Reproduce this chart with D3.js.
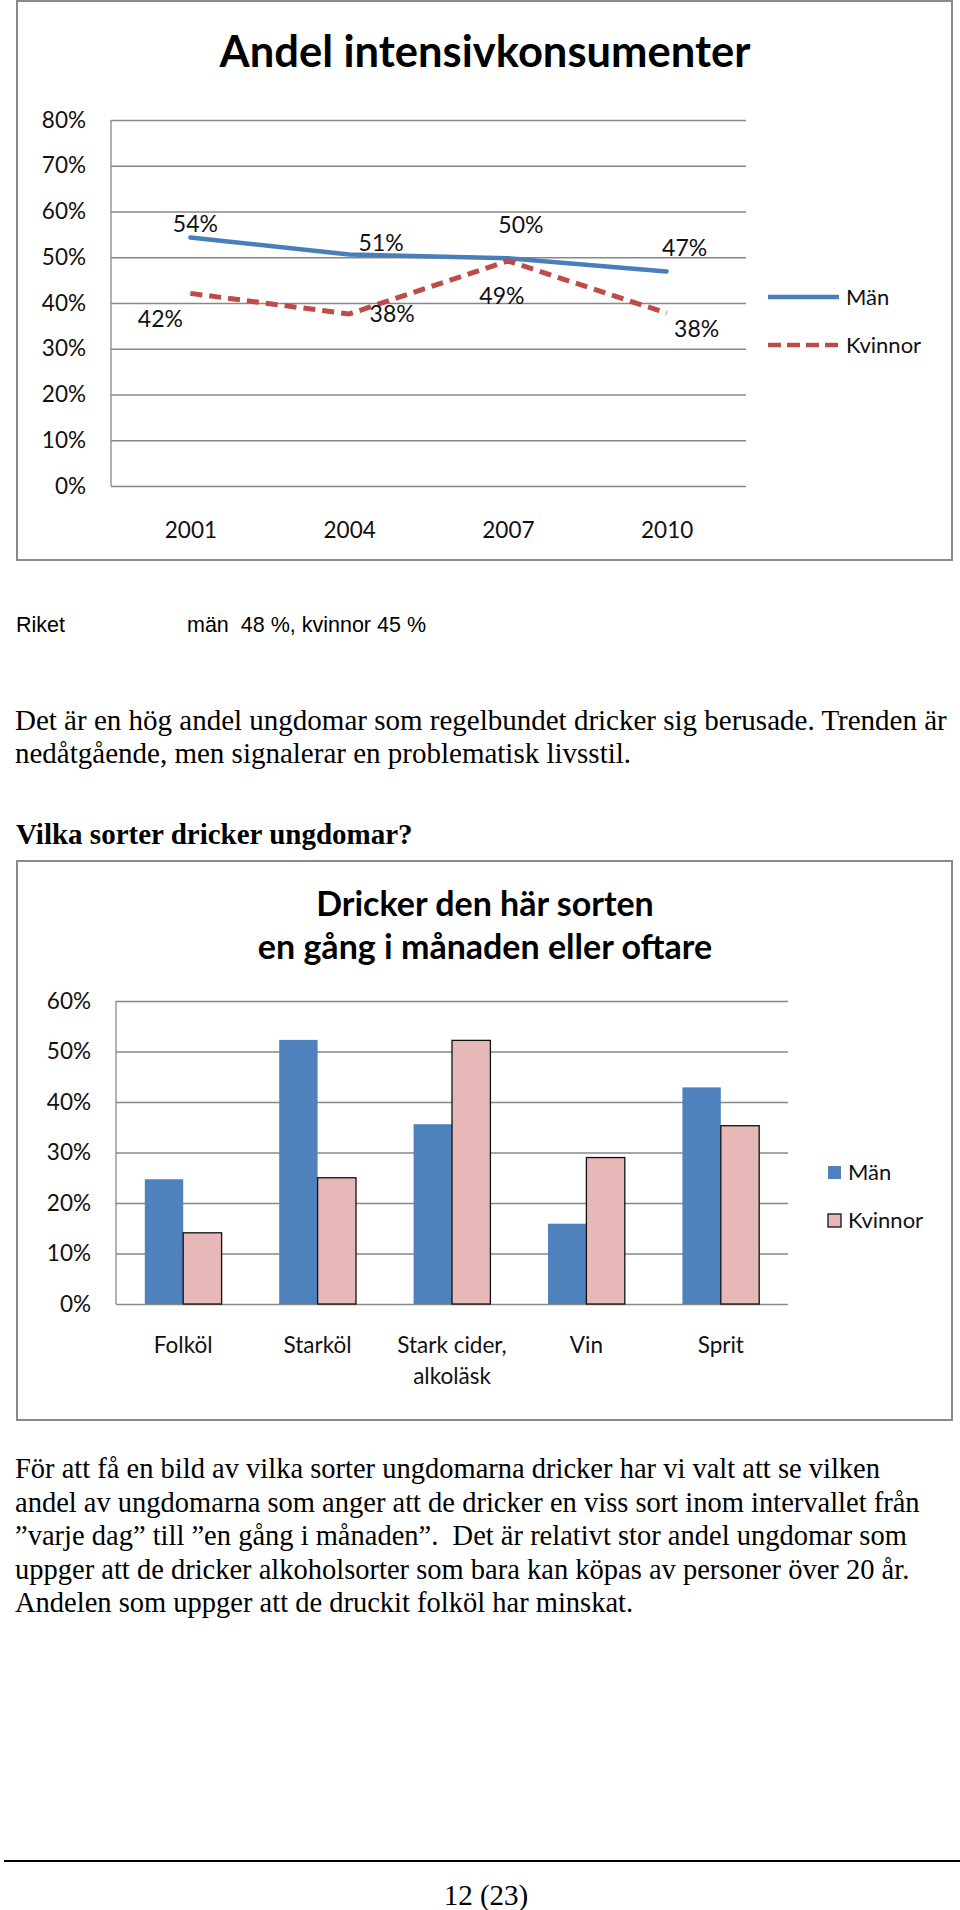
<!DOCTYPE html>
<html>
<head>
<meta charset="utf-8">
<script src="https://cdn.jsdelivr.net/npm/d3@7"></script>
<style>
    body { margin: 0; background: #fff; }
    svg { display: block; }
</style>
</head>
<body>
<div id="chart-area"></div>
<script>
// Andel intensivkonsumenter (line chart)
const years = ["2001", "2004", "2007", "2010"];
const manIntensiv = [54.3, 50.6, 49.8, 46.9];
const kvinnorIntensiv = [42.1, 37.6, 49.2, 37.8];
const intensivTicks = [0, 10, 20, 30, 40, 50, 60, 70, 80];

// Dricker den här sorten (bar chart)
const sorter = ["Folköl", "Starköl", "Stark cider, alkoläsk", "Vin", "Sprit"];
const sortLabels = [["Folköl"], ["Starköl"], ["Stark cider,", "alkoläsk"], ["Vin"], ["Sprit"]];
const manSorter = [24.7, 52.3, 35.6, 15.9, 42.9];
const kvinnorSorter = [14.1, 25.0, 52.2, 29.0, 35.3];
const sorterTicks = [0, 10, 20, 30, 40, 50, 60];

const series = ["Män", "Kvinnor"];

// page text
const riketText = ["Riket", "män  48 %, kvinnor 45 %"];
const para1 = [
    "Det är en hög andel ungdomar som regelbundet dricker sig berusade. Trenden är",
    "nedåtgående, men signalerar en problematisk livsstil."
];
const heading = "Vilka sorter dricker ungdomar?";
const para2 = [
    "För att få en bild av vilka sorter ungdomarna dricker har vi valt att se vilken",
    "andel av ungdomarna som anger att de dricker en viss sort inom intervallet från",
    "\u201dvarje dag\u201d till \u201den gång i månaden\u201d.  Det är relativt stor andel ungdomar som",
    "uppger att de dricker alkoholsorter som bara kan köpas av personer över 20 år.",
    "Andelen som uppger att de druckit folköl har minskat."
];
const pageNo = "12 (23)";

// label nudges (Excel placed them by hand)
const manNudge = [[5, -6], [32, -4], [13, -25], [18, -15]];
const kvNudge = [[-30, 34], [43, 8], [-6, 43], [30, 24]];

const chartFont = "Lato, 'Open Sans', sans-serif";
const serif = "'Liberation Serif', 'Times New Roman', serif";
const blue = "#4a7ebb", red = "#be4b48";
const barBlue = "#4f81bd", barPink = "#e6b9b8";
const gridColor = "#888888";

const svg = d3.select("#chart-area")
    .append("svg")
        .attr("width", 960)
        .attr("height", 1910);

/* ---------------- CHART 1 ---------------- */
const c1 = svg.append("g");

c1.append("rect")
    .attr("x", 17).attr("y", 1)
    .attr("width", 935).attr("height", 559)
    .attr("fill", "#fff")
    .attr("stroke", "#8a8a8a")
    .attr("stroke-width", 2);

c1.append("text")
    .attr("x", 485).attr("y", 67)
    .attr("text-anchor", "middle")
    .attr("font-family", chartFont)
    .attr("font-weight", "bold")
    .attr("font-size", "43.5px")
    .text("Andel intensivkonsumenter");

const x1 = d3.scalePoint()
    .domain(years)
    .range([111, 746])
    .padding(0.5);

const y1 = d3.scaleLinear()
    .domain([0, 80])
    .range([486, 120]);

// Y AXIS with gridlines
const y1Axis = c1.append("g")
    .attr("transform", "translate(111,0)")
    .call(d3.axisLeft(y1)
        .tickValues(intensivTicks)
        .tickSize(-635)
        .tickPadding(25)
        .tickFormat(d => d + "%"));
y1Axis.select(".domain").remove();
y1Axis.selectAll("line").attr("stroke", gridColor).attr("stroke-width", 1.3);
y1Axis.selectAll("text")
    .attr("font-family", chartFont)
    .attr("font-size", "22.5px")
    .attr("fill", "#111");

c1.append("line")
    .attr("x1", 111).attr("x2", 111)
    .attr("y1", y1(80)).attr("y2", y1(0))
    .attr("stroke", gridColor).attr("stroke-width", 1.3);

// X AXIS labels
const x1Axis = c1.append("g")
    .attr("transform", "translate(0," + y1(0) + ")")
    .call(d3.axisBottom(x1).tickSize(0).tickPadding(36));
x1Axis.select(".domain").remove();
x1Axis.selectAll("text")
    .attr("font-family", chartFont)
    .attr("font-size", "22.5px")
    .attr("fill", "#111");

const line1 = d3.line()
    .x((d, i) => x1(years[i]))
    .y(d => y1(d));

c1.append("path")
    .attr("d", line1(manIntensiv))
    .attr("fill", "none")
    .attr("stroke", blue)
    .attr("stroke-width", 4.5)
    .attr("stroke-linecap", "round")
    .attr("stroke-linejoin", "round");

c1.append("path")
    .attr("d", line1(kvinnorIntensiv))
    .attr("fill", "none")
    .attr("stroke", red)
    .attr("stroke-width", 5)
    .attr("stroke-dasharray", "12,7");

//DATA LABELS
function addLabels(values, nudge) {
    c1.append("g").selectAll("text")
        .data(values)
        .enter()
        .append("text")
        .attr("x", (d, i) => x1(years[i]) + nudge[i][0])
        .attr("y", (d, i) => y1(d) + nudge[i][1])
        .attr("text-anchor", "middle")
        .attr("font-family", chartFont)
        .attr("font-size", "23px")
        .attr("fill", "#111")
        .text(d => Math.round(d) + "%");
}
addLabels(manIntensiv, manNudge);
addLabels(kvinnorIntensiv, kvNudge);

//LEGEND
const leg1 = c1.append("g").attr("transform", "translate(768,297)");
series.forEach(function(s, i) {
    const row = leg1.append("g").attr("transform", "translate(0," + i * 48 + ")");
    row.append("line")
        .attr("x1", 0).attr("x2", 71)
        .attr("stroke", i === 0 ? blue : red)
        .attr("stroke-width", 4.5)
        .attr("stroke-dasharray", i === 0 ? null : "13,6");
    row.append("text")
        .attr("x", 78).attr("y", 8)
        .attr("font-family", chartFont)
        .attr("font-size", "22px")
        .attr("fill", "#111")
        .text(s);
});

/* ---------------- PAGE TEXT ---------------- */
svg.append("text")
    .attr("x", 16).attr("y", 632)
    .attr("font-family", "'Liberation Sans', Arial, sans-serif")
    .attr("font-size", "21.5px")
    .text(riketText[0]);
svg.append("text")
    .attr("x", 187).attr("y", 632)
    .attr("font-family", "'Liberation Sans', Arial, sans-serif")
    .attr("font-size", "21.5px")
    .attr("xml:space", "preserve")
    .text(riketText[1]);

svg.append("g").selectAll("text")
    .data(para1)
    .enter()
    .append("text")
    .attr("x", 15)
    .attr("y", (d, i) => 730 + i * 33)
    .attr("font-family", serif)
    .attr("font-size", "29px")
    .text(d => d);

svg.append("text")
    .attr("x", 16).attr("y", 844)
    .attr("font-family", serif)
    .attr("font-weight", "bold")
    .attr("font-size", "29px")
    .text(heading);

/* ---------------- CHART 2 ---------------- */
const c2 = svg.append("g");

c2.append("rect")
    .attr("x", 17).attr("y", 861)
    .attr("width", 935).attr("height", 559)
    .attr("fill", "#fff")
    .attr("stroke", "#8a8a8a")
    .attr("stroke-width", 2);

c2.append("text")
    .attr("x", 485)
    .attr("font-family", chartFont)
    .attr("font-weight", "bold")
    .attr("font-size", "34px")
    .attr("text-anchor", "middle")
    .selectAll("tspan")
    .data(["Dricker den här sorten", "en gång i månaden eller oftare"])
    .enter()
    .append("tspan")
    .attr("x", 485)
    .attr("y", (d, i) => 916 + i * 43)
    .text(d => d);

const x2 = d3.scaleBand()
    .domain(sorter)
    .range([116, 788]);

// gap width 150% like Excel
const barW = x2.bandwidth() / 3.5;
const xSeries = d3.scaleBand()
    .domain(series)
    .range([0, barW * 2]);

const y2 = d3.scaleLinear()
    .domain([0, 60])
    .range([1304, 1001]);

const y2Axis = c2.append("g")
    .attr("transform", "translate(116,0)")
    .call(d3.axisLeft(y2)
        .tickValues(sorterTicks)
        .tickSize(-672)
        .tickPadding(25)
        .tickFormat(d => d + "%"));
y2Axis.select(".domain").remove();
y2Axis.selectAll("line").attr("stroke", gridColor).attr("stroke-width", 1.3);
y2Axis.selectAll("text")
    .attr("font-family", chartFont)
    .attr("font-size", "22.5px")
    .attr("fill", "#111");

c2.append("line")
    .attr("x1", 116).attr("x2", 116)
    .attr("y1", y2(60)).attr("y2", y2(0))
    .attr("stroke", gridColor).attr("stroke-width", 1.3);

// BARS
const groups = c2.append("g").selectAll("g")
    .data(sorter)
    .enter()
    .append("g")
    .attr("transform", d => "translate(" + (x2(d) + (x2.bandwidth() - barW * 2) / 2) + ",0)");

groups.append("rect")
    .attr("x", xSeries("Män"))
    .attr("y", (d, i) => y2(manSorter[i]))
    .attr("width", xSeries.bandwidth())
    .attr("height", (d, i) => y2(0) - y2(manSorter[i]))
    .attr("fill", barBlue);

groups.append("rect")
    .attr("x", xSeries("Kvinnor"))
    .attr("y", (d, i) => y2(kvinnorSorter[i]))
    .attr("width", xSeries.bandwidth())
    .attr("height", (d, i) => y2(0) - y2(kvinnorSorter[i]))
    .attr("fill", barPink)
    .attr("stroke", "#111")
    .attr("stroke-width", 1.3);

// category labels
c2.append("g").selectAll("text")
    .data(sorter)
    .enter()
    .append("text")
    .attr("font-family", chartFont)
    .attr("font-size", "22.5px")
    .attr("fill", "#111")
    .attr("text-anchor", "middle")
    .each(function(d, i) {
        d3.select(this).selectAll("tspan")
            .data(sortLabels[i])
            .enter()
            .append("tspan")
            .attr("x", x2(d) + x2.bandwidth() / 2)
            .attr("y", (t, j) => 1353 + j * 31)
            .text(t => t);
    });

//LEGEND
const leg2 = c2.append("g").attr("transform", "translate(828,1166)");
series.forEach(function(s, i) {
    const row = leg2.append("g").attr("transform", "translate(0," + i * 48 + ")");
    row.append("rect")
        .attr("width", 13).attr("height", 13)
        .attr("fill", i === 0 ? barBlue : barPink)
        .attr("stroke", i === 0 ? null : "#111")
        .attr("stroke-width", 1.3);
    row.append("text")
        .attr("x", 20).attr("y", 14)
        .attr("font-family", chartFont)
        .attr("font-size", "22px")
        .attr("fill", "#111")
        .text(s);
});

/* ---------------- PAGE TEXT 2 ---------------- */
svg.append("g").selectAll("text")
    .data(para2)
    .enter()
    .append("text")
    .attr("x", 15)
    .attr("y", (d, i) => 1478 + i * 33.5)
    .attr("font-family", serif)
    .attr("font-size", "28.5px")
    .attr("xml:space", "preserve")
    .text(d => d);

svg.append("line")
    .attr("x1", 4).attr("x2", 960)
    .attr("y1", 1861).attr("y2", 1861)
    .attr("stroke", "#000")
    .attr("stroke-width", 2);

svg.append("text")
    .attr("x", 486).attr("y", 1905)
    .attr("text-anchor", "middle")
    .attr("font-family", serif)
    .attr("font-size", "29px")
    .text(pageNo);
</script>
</body>
</html>
